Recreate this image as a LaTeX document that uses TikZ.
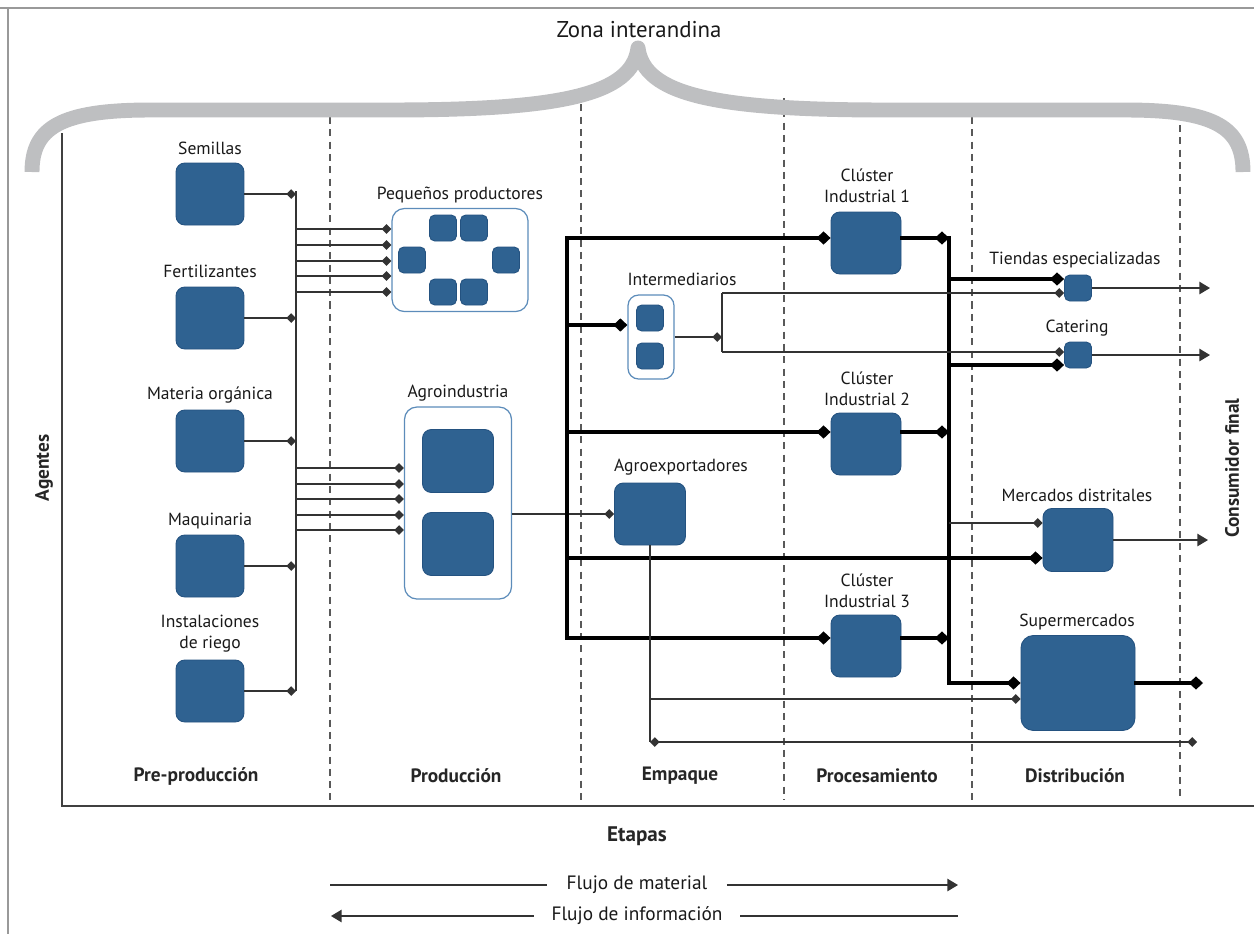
\documentclass[tikz,border=0pt]{standalone}
\usepackage{fontspec}
\setmainfont{PT Sans}
\usetikzlibrary{arrows.meta}

\definecolor{azul}{RGB}{47,98,145}
\definecolor{azulborde}{RGB}{36,82,128}
\definecolor{azulclaro}{RGB}{92,140,186}
\definecolor{llavegris}{RGB}{190,191,193}

\tikzset{
	agente/.style = {draw = azulborde, fill = azul, line width = 0.5pt,
					 rounded corners = 5pt, inner sep = 0pt,
					 minimum width = 1.36cm, minimum height = 1.24cm},
	mini/.style = {agente, rounded corners = 3pt,
				   minimum width = 0.54cm, minimum height = 0.52cm},
	grupo/.style = {draw = azulclaro, fill = white, line width = 0.7pt,
					rounded corners = 7pt, inner sep = 0pt},
	etiqueta/.style = {font = \fontsize{10}{12}\selectfont,
					   align = center, inner sep = 0pt, text = black!90},
	etapa/.style = {font = \fontsize{11}{13}\selectfont\bfseries,
					inner sep = 0pt, text = black!85},
	fino/.style = {line width = 0.8pt, black!80},
	grueso/.style = {line width = 2.2pt, line cap = rect},
	divisor/.style = {line width = 0.6pt, black!65, dash pattern = on 4pt off 3pt},
	rombo/.style = {-{Diamond[length = 5.5pt, width = 5.5pt]}},
	rombog/.style = {-{Diamond[length = 8pt, width = 7.5pt]}},
	flecha/.style = {-{Triangle[length = 6pt, width = 7pt]}}
}

\begin{document}
\begin{tikzpicture}[x = 0.02cm, y = -0.02cm]

	\useasboundingbox (0,0) rectangle (1254,934);

	\draw[black!40, line width = 1pt] (0,8) -- (1254,8) (8,8) -- (8,934);
	\draw[black!75, line width = 1pt] (62,133) -- (62,806) -- (1254,806);

	\foreach \x/\t in {330/117, 581/92, 784/98, 972/117, 1180/125}
		\draw[divisor] (\x,\t) -- (\x,800);

	\draw[llavegris, line width = 8.5pt, line join = round]
		(32,172) .. controls (32,128) and (60,110) .. (150,110)
		-- (390,110) .. controls (560,110) and (632,95) .. (638,48)
		.. controls (644,95) and (716,110) .. (886,110)
		-- (1126,110) .. controls (1216,110) and (1243,128) .. (1243,172);

	\draw (639,30) node[etiqueta,
					  font = \fontsize{13}{15}\selectfont] (zona) {Zona interandina};

	\draw (210,194) node[agente] (semillas) {};
	\draw (210,318) node[agente] (fertil) {};
	\draw (210,441) node[agente] (materia) {};
	\draw (210,566) node[agente] (maquinaria) {};
	\draw (210,691) node[agente] (riego) {};

	\draw (210,148) node[etiqueta] (tsemillas) {Semillas};
	\draw (210,271) node[etiqueta] (tfertil) {Fertilizantes};
	\draw (210,395) node[etiqueta] (tmateria) {Materia orgánica};
	\draw (210,521) node[etiqueta] (tmaquinaria) {Maquinaria};
	\draw (210,634) node[etiqueta] (triego) {Instalaciones\\de riego};

	\draw (460,260) node[grupo,
					   minimum width = 2.72cm,
					   minimum height = 2.06cm] (pequenos) {};
	\foreach \x/\y [count = \i] in {443/228, 474/228, 412/260, 506/260, 443/292, 474/292}
		\draw (\x,\y) node[mini] (pp\i) {};
	\draw (460,195) node[etiqueta] (tpequenos) {Pequeños productores};

	\draw (458,503) node[grupo,
					   minimum width = 2.14cm,
					   minimum height = 3.84cm] (agroind) {};
	\draw (458,461) node[agente, minimum width = 1.42cm, minimum height = 1.26cm] (ai1) {};
	\draw (458,544) node[agente, minimum width = 1.42cm, minimum height = 1.26cm] (ai2) {};
	\draw (458,393) node[etiqueta] (tagroind) {Agroindustria};

	\draw (651,337) node[grupo,
					   rounded corners = 6pt,
					   minimum width = 0.92cm,
					   minimum height = 1.68cm] (interm) {};
	\draw (650,318) node[mini] (im1) {};
	\draw (650,356) node[mini] (im2) {};
	\draw (682,279) node[etiqueta] (tinterm) {Intermediarios};

	\draw (650,514) node[agente, minimum width = 1.42cm] (agroexp) {};
	\draw (681,467) node[etiqueta] (tagroexp) {Agroexportadores};

	\draw (866,243) node[agente, minimum width = 1.4cm] (clusterA) {};
	\draw (866,444) node[agente, minimum width = 1.4cm] (clusterB) {};
	\draw (866,646) node[agente, minimum width = 1.4cm] (clusterC) {};
	\draw (867,186) node[etiqueta] (tclusterA) {Clúster\\Industrial 1};
	\draw (867,389) node[etiqueta] (tclusterB) {Clúster\\Industrial 2};
	\draw (867,591) node[etiqueta] (tclusterC) {Clúster\\Industrial 3};

	\draw (1078,288) node[mini] (tiendas) {};
	\draw (1078,355) node[mini] (catering) {};
	\draw (1078,540) node[agente, minimum width = 1.4cm, minimum height = 1.26cm] (mercados) {};
	\draw (1078,683) node[agente,
						rounded corners = 7pt,
						minimum width = 2.28cm,
						minimum height = 1.9cm] (super) {};
	\draw (1075,260) node[etiqueta] (ttiendas) {Tiendas especializadas};
	\draw (1077,328) node[etiqueta] (tcatering) {Catering};
	\draw (1077,495) node[etiqueta] (tmercados) {Mercados distritales};
	\draw (1077,622) node[etiqueta] (tsuper) {Supermercados};

	\coordinate (busP) at (296,191);
	\coordinate (busQ) at (296,691);
	\coordinate (eA) at (567,238);
	\coordinate (eI) at (567,325);
	\coordinate (eB) at (567,432);
	\coordinate (eM) at (567,558);
	\coordinate (eC) at (567,638);
	\coordinate (dA) at (949,238);
	\coordinate (dT) at (949,279);
	\coordinate (dC) at (949,365);
	\coordinate (dM) at (949,523);
	\coordinate (dS) at (949,683);
	\coordinate (iJ) at (722,337);
	\coordinate (iT) at (722,293);
	\coordinate (iC) at (722,352);
	\coordinate (aP) at (agroexp.south |- 0,699);
	\coordinate (aC) at (agroexp.south |- 0,742);
	\coordinate (oT) at (1210,288);
	\coordinate (oC) at (1210,355);
	\coordinate (oM) at (1208,540);
	\coordinate (oS) at (1203,683);
	\coordinate (oI) at (1197,742);

	\draw[fino] (busP) -- (busQ);
	\foreach \n in {semillas, fertil, materia, maquinaria, riego}
		\draw[fino, rombo] (\n.east) -- (\n.east -| busP);
	\foreach \y in {229, 245, 261, 276, 292}
		\draw[fino, rombo] (busP |- 0,\y) -- (pequenos.west |- 0,\y);
	\foreach \y in {468, 484, 499, 515, 530}
		\draw[fino, rombo] (busP |- 0,\y) -- (agroind.west |- 0,\y);
	\draw[fino, rombo] (agroind.east |- agroexp) -- (agroexp.west);

	\draw[grueso, rombog] (eC) -- (eA) -- (clusterA.west |- eA);
	\draw[grueso, rombog] (eI) -- (interm.west |- eI);
	\draw[grueso, rombog] (eB) -- (clusterB.west |- eB);
	\draw[grueso, rombog] (eM) -- (mercados.west |- eM);
	\draw[grueso, rombog] (eC) -- (clusterC.west |- eC);

	\draw[grueso, rombog] (clusterA.east |- dA) -- (dA);
	\draw[grueso, rombog] (clusterB.east |- eB) -- (eB -| dA);
	\draw[grueso, rombog] (clusterC.east |- eC) -- (eC -| dA);
	\draw[grueso, rombog] (dA) -- (dS) -- (super.west |- dS);
	\draw[grueso, rombog] (dT) -- (tiendas.west |- dT);
	\draw[grueso, rombog] (dC) -- (catering.west |- dC);
	\draw[grueso, rombog] (super.east |- dS) -- (oS);

	\draw[fino, rombo] (interm.east |- iJ) -- (iJ);
	\draw[fino] (iT) -- (iC);
	\draw[fino, rombo] (iT) -- (tiendas.west |- iT);
	\draw[fino, rombo] (iC) -- (catering.west |- iC);
	\draw[fino, rombo] (dM) -- (mercados.west |- dM);
	\draw[fino] (agroexp.south) -- (aC);
	\draw[fino, rombo] (aP) -- (super.west |- aP);
	\draw[fino, {Diamond[length = 5.5pt, width = 5.5pt]}-{Diamond[length = 5.5pt, width = 5.5pt]}] (aC) -- (oI);

	\draw[fino, flecha] (tiendas.east) -- (oT);
	\draw[fino, flecha] (catering.east) -- (oC);
	\draw[fino, flecha] (mercados.east) -- (oM);

	\draw (196,776) node[etapa] (preprod) {Pre-producción};
	\draw (456,776) node[etapa] (prod) {Producción};
	\draw (680,776) node[etapa] (empaque) {Empaque};
	\draw (877,776) node[etapa] (proces) {Procesamiento};
	\draw (1075,776) node[etapa] (distrib) {Distribución};
	\draw (637,836) node[etapa, font = \fontsize{12}{14}\selectfont\bfseries] (etapas) {Etapas};
	\draw (44,468) node[etapa, rotate = 90] (agentes) {Agentes};
	\draw (1232,468) node[etapa, rotate = 90] (consumidor) {Consumidor final};

	\coordinate (lA) at (330,885);
	\coordinate (lB) at (958,885);
	\coordinate (lC) at (331,916);
	\coordinate (lD) at (958,916);
	\draw (637,885) node[etiqueta,
					   font = \fontsize{11}{13}\selectfont,
					   inner xsep = 11pt] (fmat) {Flujo de material};
	\draw (637,916) node[etiqueta,
					   font = \fontsize{11}{13}\selectfont,
					   inner xsep = 10pt] (finf) {Flujo de información};
	\draw[fino] (lA) -- (fmat.west);
	\draw[fino, flecha] (fmat.east) -- (lB);
	\draw[fino, flecha] (finf.west) -- (lC);
	\draw[fino] (finf.east) -- (lD);
\end{tikzpicture}
\end{document}
